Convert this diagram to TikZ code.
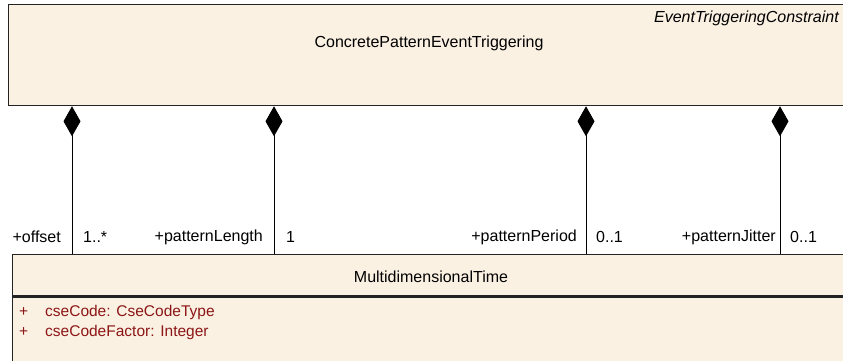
\documentclass[tikz,border=0pt]{standalone}
\usepackage{fontspec}
\setmainfont{Liberation Sans}
\usepackage{xcolor}
\usetikzlibrary{arrows.meta,positioning}

\definecolor{classfill}{RGB}{251,241,227}
\definecolor{classline}{RGB}{35,35,35}
\definecolor{attrred}{RGB}{140,22,22}

\tikzset{
  classbox/.style={draw=classline, line width=1.3pt, fill=classfill, anchor=north west, inner sep=0pt},
  composition/.style={draw=black, line width=0.9pt, {Diamond[length=30pt,width=17pt,fill=black]}-},
  rolelabel/.style={font=\fontsize{16}{19}\selectfont, inner sep=0pt, anchor=east},
  multlabel/.style={font=\fontsize{16}{19}\selectfont, inner sep=0pt, anchor=west},
  attrlabel/.style={font=\fontsize{15.5}{19}\selectfont, text=attrred, inner sep=0pt, anchor=west}
}

\begin{document}
\begin{tikzpicture}[x=1pt, y=-1pt]
  \useasboundingbox (0,0) rectangle (843,361);
  \clip (0,0) rectangle (843,361);

  % Classes
  \node[classbox, minimum width=892pt, minimum height=101pt] (trig) at (8,4) {};
  \node[classbox, minimum width=890pt, minimum height=41pt] (time) at (12,254) {};
  \node[classbox, minimum width=890pt, minimum height=65pt] (timeattr) at (time.south west) {};

  % Class names
  \node[font=\fontsize{16}{19}\selectfont, inner sep=0pt] (trigname) at (429,43) {ConcretePatternEventTriggering};
  \node[font=\fontsize{16}{19}\selectfont\itshape, inner sep=0pt, anchor=east] (trigstereo) at (839,18) {EventTriggeringConstraint};
  \node[font=\fontsize{16}{19}\selectfont, inner sep=0pt] (timename) at (431,277) {MultidimensionalTime};

  % Attributes
  \node[attrlabel] (attrcode) at (19,312) {\makebox[26pt][l]{+}cseCode: CseCodeType};
  \node[attrlabel] (attrfactor) at (19,332) {\makebox[26pt][l]{+}cseCodeFactor: Integer};

  % Compositions
  \coordinate (offset) at (72,237);
  \coordinate (length) at (274,237);
  \coordinate (period) at (586,237);
  \coordinate (jitter) at (780,237);

  \draw[composition] (offset |- trig.south) -- (offset |- time.north);
  \draw[composition] (length |- trig.south) -- (length |- time.north);
  \draw[composition] (period |- trig.south) -- (period |- time.north);
  \draw[composition] (jitter |- trig.south) -- (jitter |- time.north);

  % Role names and multiplicities
  \node[rolelabel, left=11pt of offset] (offsetrole) {+offset};
  \node[multlabel, right=11pt of offset] (offsetmult) {1..*};
  \node[rolelabel, left=11pt of length] (lengthrole) {+patternLength};
  \node[multlabel, right=12pt of length] (lengthmult) {1};
  \node[rolelabel, left=9pt of period] (periodrole) {+patternPeriod};
  \node[multlabel, right=10pt of period] (periodmult) {0..1};
  \node[rolelabel, left=4pt of jitter] (jitterrole) {+patternJitter};
  \node[multlabel, right=10pt of jitter] (jittermult) {0..1};

\end{tikzpicture}
\end{document}
